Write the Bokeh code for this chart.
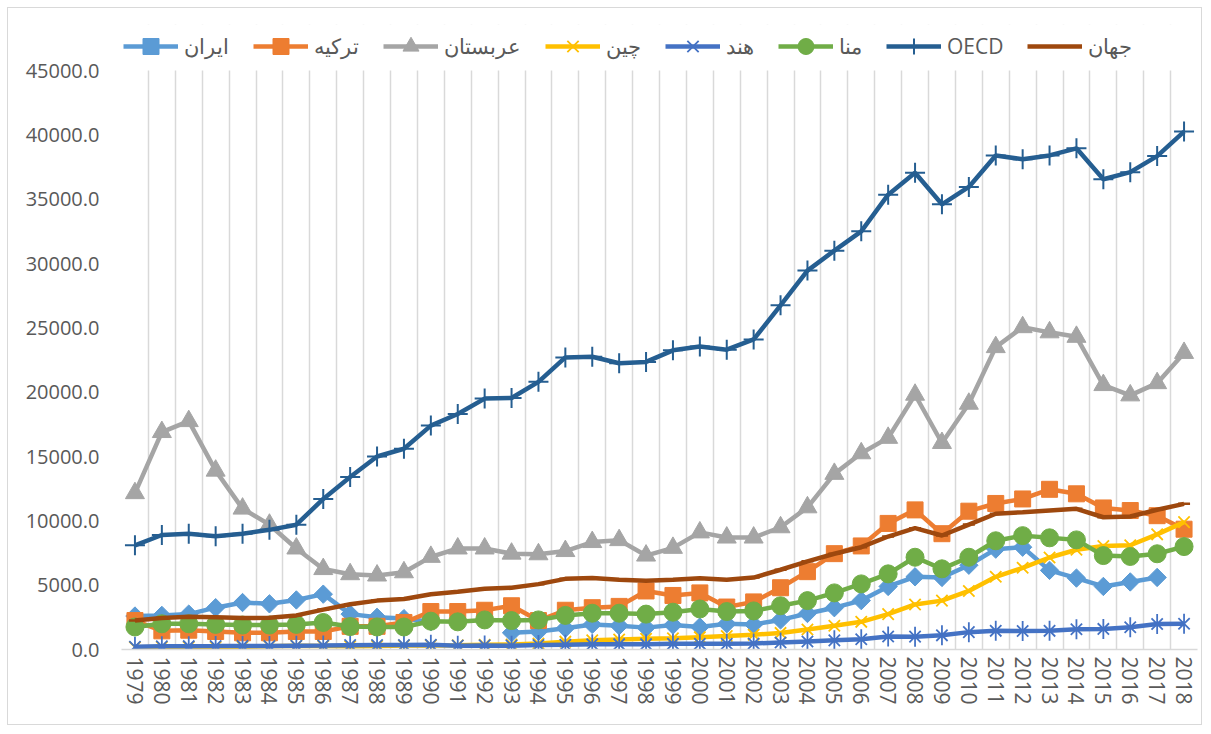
import math
from bokeh.plotting import figure
from bokeh.models import (FixedTicker, NumeralTickFormatter, Legend, LegendItem,
                          Range1d, ColumnDataSource, BoxAnnotation)
from bokeh.embed import file_html
from bokeh.resources import INLINE

nan = float("nan")

years = list(range(1979, 2019))

names = ["ایران", "ترکیه", "عربستان", "چین", "هند", "منا", "OECD", "جهان"]

iran = [2600, 2650, 2750, 3250, 3650, 3550, 3850, 4300, 2750, 2500, 2400, 2150, nan, nan,
        1300, 1400, 1650, 1950, 1850, 1700, 1900, 1750, 2000, 1950, 2300, 2800,
        3250, 3800, 4900, 5650, 5600, 6550, 7800, 7950, 6150, 5550, 4900, 5250, 5600, nan]

turkey = [2250, 1450, 1500, 1400, 1300, 1300, 1400, 1400, 1800, 1800, 2100, 2950, 2950, 3050,
          3400, 2250, 3050, 3250, 3350, 4550, 4200, 4400, 3300, 3700, 4800, 6050, 7450, 8050,
          9800, 10850, 9000, 10750, 11350, 11700, 12450, 12100, 11000, 10800, 10400, 9350]

saudi = [12150, 16900, 17750, 13900, 10950, 9700, 7850, 6250, 5850, 5750, 6000, 7200, 7850,
         7850, 7450, 7400, 7650, 8350, 8500, 7300, 7900, 9100, 8700, 8700, 9500, 11050, 13650,
         15250, 16450, 19800, 16050, 19100, 23500, 25050, 24650, 24300, 20550, 19750, 20700, 23050]

china = [180, 190, 195, 200, 220, 250, 290, 280, 250, 280, 310, 320, 330, 370, 380, 470, 610,
         710, 780, 830, 870, 960, 1050, 1150, 1290, 1550, 1850, 2150, 2750, 3500, 3800, 4550,
         5650, 6350, 7150, 7750, 8050, 8100, 8950, 9900]

india = [210, 250, 260, 265, 280, 270, 290, 305, 340, 350, 345, 370, 300, 320, 300, 350, 375,
         400, 415, 415, 440, 440, 450, 470, 545, 620, 710, 800, 1010, 1000, 1100, 1350, 1450,
         1440, 1450, 1570, 1600, 1730, 1980, 2000]

mena = [1750, 2000, 2000, 1950, 1900, 1900, 1950, 2100, 1780, 1750, 1750, 2200, 2150, 2300,
        2250, 2300, 2650, 2820, 2820, 2750, 2900, 3150, 2950, 3000, 3400, 3800, 4400, 5100,
        5880, 7170, 6270, 7170, 8450, 8850, 8680, 8520, 7300, 7230, 7440, 8000]

oecd = [8100, 8900, 9000, 8800, 9000, 9300, 9700, 11700, 13400, 15000, 15600, 17400, 18300,
        19500, 19550, 20800, 22700, 22750, 22250, 22350, 23250, 23550, 23300, 24100, 26750,
        29450, 31000, 32500, 35350, 37050, 34600, 35950, 38400, 38100, 38400, 38950, 36550,
        37100, 38350, 40250]

world = [2250, 2450, 2550, 2500, 2450, 2460, 2650, 3100, 3520, 3800, 3930, 4300, 4480, 4720,
         4800, 5080, 5490, 5560, 5420, 5340, 5420, 5530, 5420, 5590, 6200, 6850, 7440, 7950,
         8780, 9430, 8860, 9710, 10550, 10670, 10800, 10930, 10280, 10340, 10860, 11320]

y_ticks = [0, 5000, 10000, 15000, 20000, 25000, 30000, 35000, 40000, 45000]
Y_MAX = 45000

series = [iran, turkey, saudi, china, india, mena, oecd, world]
colors = ["#5B9BD5", "#ED7D31", "#A5A5A5", "#FFC000", "#4472C4", "#70AD47", "#255E91", "#9E480E"]

FONT = "Open Sans"
TXT = "#595959"

# layout: plot area of 579 px for 0..45000, plus a strip on top for the legend
W, H = 1195, 718
TOP, BOTTOM = 16, 77
FRAME_H = H - TOP - BOTTOM
AXIS_H = 579
y_end = Y_MAX * FRAME_H / AXIS_H

p = figure(width=W, height=H, output_backend="svg", toolbar_location=None,
           x_range=Range1d(years[0] - 0.5, years[-1] + 0.5), y_range=Range1d(0, y_end),
           min_border_left=113, min_border_right=6, min_border_top=TOP, min_border_bottom=BOTTOM)
p.styles = {"border": "1px solid #D9D9D9", "margin": "7px"}
p.outline_line_color = None
p.background_fill_color = "white"
p.border_fill_color = "white"

p.ygrid.grid_line_color = None
p.xgrid.ticker = FixedTicker(ticks=[y - 0.5 for y in years] + [years[-1] + 0.5])
p.xgrid.grid_line_color = "#D9D9D9"
p.xgrid.grid_line_width = 1.5

# hide the grid above the top of the value axis (legend strip)
p.add_layout(BoxAnnotation(bottom=Y_MAX, fill_color="white", fill_alpha=1, line_color=None))

p.xaxis.ticker = FixedTicker(ticks=years)
p.xaxis.major_label_orientation = "vertical"
p.xaxis.axis_line_color = "#D9D9D9"
p.xaxis.axis_line_width = 1.5
p.xaxis.major_tick_line_color = None
p.xaxis.minor_tick_line_color = None
p.xaxis.major_tick_out = 0
p.xaxis.major_label_standoff = 7
p.xaxis.major_label_text_font = FONT
p.xaxis.major_label_text_font_size = "21px"
p.xaxis.major_label_text_color = TXT

p.yaxis.ticker = FixedTicker(ticks=y_ticks)
p.yaxis.formatter = NumeralTickFormatter(format="0.0")
p.yaxis.axis_line_color = None
p.yaxis.major_tick_line_color = None
p.yaxis.minor_tick_line_color = None
p.yaxis.major_tick_out = 0
p.yaxis.major_label_standoff = 22
p.yaxis.major_label_text_font = FONT
p.yaxis.major_label_text_font_size = "20px"
p.yaxis.major_label_text_color = TXT

LW = 4.5
items = []
for name, vals, col in zip(names, series, colors):
    src = ColumnDataSource(dict(x=years, y=vals))
    rs = [p.line("x", "y", source=src, line_color=col, line_width=LW)]
    if name == "ایران":
        rs.append(p.scatter("x", "y", source=src, marker="square", angle=math.pi / 4,
                            size=13, fill_color=col, line_color=col))
    elif name == "ترکیه":
        rs.append(p.scatter("x", "y", source=src, marker="square", size=16,
                            fill_color=col, line_color=col))
    elif name == "عربستان":
        rs.append(p.scatter("x", "y", source=src, marker="triangle", size=19,
                            fill_color=col, line_color=col))
    elif name == "چین":
        rs.append(p.scatter("x", "y", source=src, marker="x", size=16,
                            line_color=col, line_width=1.8))
    elif name == "هند":
        rs.append(p.scatter("x", "y", source=src, marker="x", size=16,
                            line_color=col, line_width=1.8))
        rs.append(p.scatter("x", "y", source=src, marker="dash", angle=math.pi / 2, size=20,
                            line_color=col, line_width=1.8))
    elif name == "منا":
        rs.append(p.scatter("x", "y", source=src, marker="circle", size=18,
                            fill_color=col, line_color=col))
    elif name == "OECD":
        rs.append(p.scatter("x", "y", source=src, marker="cross", size=20,
                            line_color=col, line_width=2))
    else:
        rs.append(p.scatter("x", "y", source=src, marker="dash", size=12,
                            line_color=col, line_width=2.5))
    items.append(LegendItem(label=name, renderers=rs))

legend = Legend(items=items, orientation="horizontal", location="top_left",
                glyph_width=55, glyph_height=40, label_standoff=6, spacing=24,
                padding=4, margin=2, border_line_color=None, background_fill_alpha=0,
                label_text_font=FONT, label_text_font_size="21px", label_text_color=TXT)
p.add_layout(legend, "center")

open("out.html", "w").write(file_html(p, INLINE))
